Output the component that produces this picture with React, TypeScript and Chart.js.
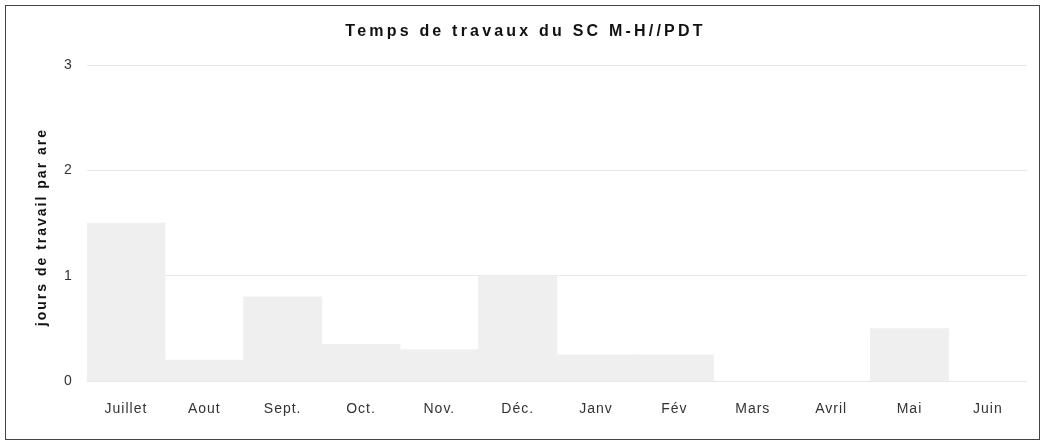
import React, { useEffect, useRef } from "react";
import { Chart, registerables } from "chart.js";

Chart.register(...registerables);

const categories = ["Juillet", "Aout", "Sept.", "Oct.", "Nov.", "Déc.", "Janv", "Fév", "Mars", "Avril", "Mai", "Juin"];
const values = [1.5, 0.2, 0.8, 0.35, 0.3, 1.0, 0.25, 0.25, 0, 0, 0.5, 0];
const yTicks = [0, 1, 2, 3];
const titleText = "Temps de travaux du SC M-H//PDT";
const yAxisTitle = "jours de travail par are";

const textPlugin = {
  id: "spacedText",
  beforeDraw(chart: any) {
    (chart.ctx as any).letterSpacing = "1px";
  },
  afterDraw(chart: any) {
    const ctx = chart.ctx as any;
    const area = chart.chartArea;
    ctx.save();
    ctx.fillStyle = "#111";
    ctx.textAlign = "center";
    ctx.textBaseline = "alphabetic";
    ctx.letterSpacing = "3.2px";
    ctx.font = "bold 16px 'Liberation Sans'";
    ctx.fillText(titleText, chart.width / 2 + 3, 30);
    ctx.restore();

    ctx.save();
    ctx.fillStyle = "#111";
    ctx.letterSpacing = "2px";
    ctx.font = "bold 14px 'Liberation Sans'";
    ctx.translate(36, (area.top + area.bottom) / 2 + 4);
    ctx.rotate(-Math.PI / 2);
    ctx.textAlign = "center";
    ctx.textBaseline = "middle";
    ctx.fillText(yAxisTitle, 0, 0);
    ctx.restore();
  },
};

export default function App() {
  const ref = useRef<HTMLCanvasElement | null>(null);
  useEffect(() => {
    document.body.style.margin = "0";
    const ctx = ref.current!;
    const chart = new Chart(ctx, {
      type: "bar",
      data: {
        labels: categories,
        datasets: [
          {
            data: values,
            backgroundColor: "#efefef",
            borderWidth: 0,
            barPercentage: 1,
            categoryPercentage: 1,
          },
        ],
      },
      options: {
        animation: false,
        responsive: false,
        maintainAspectRatio: false,
        layout: { padding: { left: 45, right: 12, top: 59, bottom: 1 } },
        plugins: {
          legend: { display: false },
          tooltip: { enabled: false },
          title: { display: false },
        },
        scales: {
          x: {
            grid: { display: false, drawTicks: false },
            border: { display: false },
            ticks: {
              color: "#333",
              font: { family: "Liberation Sans", size: 14 },
              padding: 20,
              maxRotation: 0,
            },
          },
          y: {
            min: 0,
            max: 3,
            afterBuildTicks: (axis: any) => {
              axis.ticks = yTicks.map((v) => ({ value: v }));
            },
            grid: { color: "#e8e8e8", drawTicks: false },
            border: { display: false },
            ticks: {
              color: "#333",
              font: { family: "Liberation Sans", size: 14 },
              padding: 14,
            },
          },
        },
      },
      plugins: [textPlugin],
    });
    return () => chart.destroy();
  }, []);
  return (
    <div
      style={{
        position: "absolute",
        left: 5,
        top: 5,
        width: 1033,
        height: 433,
        border: "1px solid #444",
        background: "#fff",
      }}
    >
      <canvas ref={ref} width={1033} height={433} style={{ display: "block" }} />
    </div>
  );
}
